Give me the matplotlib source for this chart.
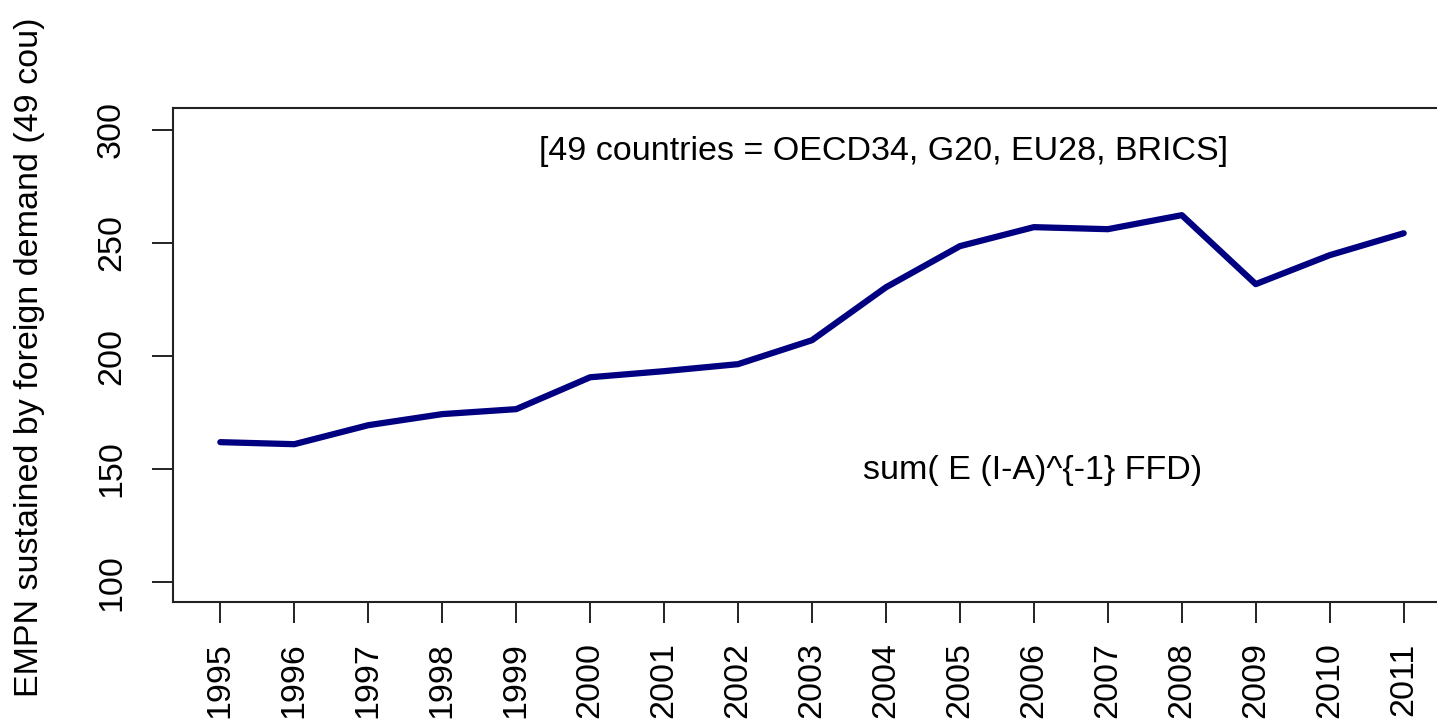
import matplotlib
matplotlib.use("Agg")
import matplotlib.pyplot as plt

years = [1995, 1996, 1997, 1998, 1999, 2000, 2001, 2002, 2003, 2004,
         2005, 2006, 2007, 2008, 2009, 2010, 2011]
empn = [161.9, 161.0, 169.4, 174.3, 176.5, 190.6, 193.3, 196.4, 207.0, 230.4,
        248.6, 257.0, 256.1, 262.3, 231.8, 244.6, 254.3]
yticks = [100, 150, 200, 250, 300]
ylabel = "EMPN sustained by foreign demand (49 cou)"
note_top = "[49 countries = OECD34, G20, EU28, BRICS]"
note_formula = "sum( E (I-A)^{-1} FFD)"

plt.rcParams['font.family'] = ['Liberation Sans', 'DejaVu Sans']
FS = 24.5

fig = plt.figure(figsize=(14.37, 7.23), dpi=100)
ax = fig.add_axes([173/1437, 1 - 602/723, 1278/1437, 494/723])
ax.plot(years, empn, color='#000080', linewidth=4.5, solid_capstyle='round')
ax.set_xlim(1995 - 0.64, 2011 + 0.64)
ax.set_ylim(91.2, 309.7)
ax.set_xticks(years)
ax.set_xticklabels([str(y) for y in years], rotation=90, fontsize=FS, va='top')
ax.set_yticks(yticks)
ax.set_yticklabels([str(v) for v in yticks], rotation=90, fontsize=FS, va='center')
ax.tick_params(axis='both', length=15, width=1.4, color='#222222')
ax.tick_params(axis='x', pad=14)
ax.tick_params(axis='y', pad=18)
for s in ax.spines.values():
    s.set_linewidth(1.5)
    s.set_color('#222222')

ax.text(1995 + (884 - 221) / 73.94, 300 - (152 - 130) / 2.262, note_top,
        ha='center', va='center', fontsize=FS)
ax.text(1995 + (1033 - 221) / 73.94, 100 + (582 - 470) / 2.262, note_formula,
        ha='center', va='center', fontsize=FS)

fig.text(30/1437, 1 - 357/723, ylabel, rotation=90, ha='center', va='center', fontsize=FS)

fig.savefig("out.png", dpi=100)
